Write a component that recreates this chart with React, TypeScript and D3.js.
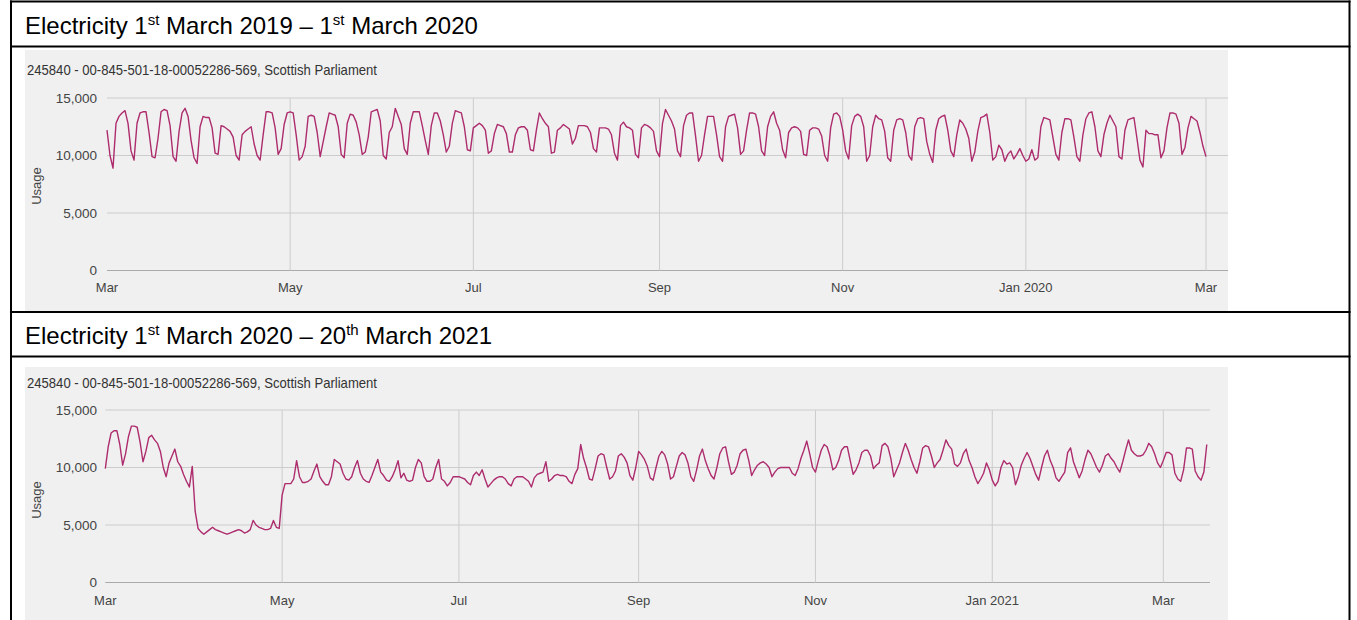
import React from "react";
import * as d3 from "d3";

const FONT = '"Liberation Sans", Arial, sans-serif';

// daily electricity usage (in hundreds), from Fri 1 Mar 2019, one row per week (Mon..Sun)
const usage2019 = [
  122, 100, 89,
  128, 134, 137, 139, 128, 104, 96,
  128, 137, 138, 138, 120, 99, 98,
  115, 138, 140, 139, 126, 99, 95,
  121, 137, 141, 134, 113, 98, 93,
  125, 134, 133, 133, 124, 102, 101,
  126, 125, 123, 121, 116, 100, 96,
  118, 121, 123, 125, 110, 100, 96,
  118, 138, 138, 137, 124, 101, 106,
  127, 137, 138, 137, 118, 96, 99,
  108, 134, 135, 134, 120, 99, 112,
  125, 137, 136, 135, 125, 101, 98,
  128, 136, 135, 129, 118, 101, 103,
  116, 138, 139, 140, 130, 100, 97,
  120, 125, 141, 134, 127, 106, 101,
  128, 138, 138, 138, 126, 113, 101,
  126, 137, 137, 130, 118, 103, 108,
  128, 139, 138, 137, 125, 105, 104,
  124, 126, 128, 126, 122, 102, 104,
  119, 127, 126, 125, 119, 103, 103,
  118, 124, 125, 125, 122, 105, 104,
  122, 137, 132, 128, 125, 102, 103,
  122, 124, 127, 125, 123, 110, 115,
  126, 126, 126, 125, 120, 106, 103,
  124, 124, 124, 123, 118, 102, 96,
  126, 129, 125, 124, 122, 101, 98,
  124, 127, 126, 124, 121, 104, 99,
  128, 140, 135, 130, 123, 104, 99,
  126, 135, 137, 137, 117, 95, 100,
  118, 134, 134, 134, 118, 99, 95,
  125, 134, 135, 136, 124, 101, 104,
  122, 137, 137, 136, 125, 104, 100,
  125, 134, 138, 128, 122, 105, 98,
  120, 124, 125, 124, 121, 101, 100,
  122, 124, 124, 123, 117, 100, 95,
  124, 136, 137, 134, 122, 104, 97,
  126, 134, 136, 134, 125, 95, 100,
  125, 135, 132, 131, 121, 98, 95,
  122, 131, 132, 131, 120, 100, 96,
  125, 132, 133, 132, 112, 101, 94,
  122, 132, 134, 135, 122, 104, 99,
  118, 131, 128, 123, 115, 95, 103,
  121, 133, 134, 136, 120, 96, 99,
  109, 105, 95, 101, 104, 97, 101,
  106, 100, 95, 97, 105, 96, 98,
  125, 133, 132, 131, 116, 101, 96,
  120, 132, 132, 131, 116, 99, 95,
  118, 132, 137, 138, 125, 104, 99,
  118, 128, 135, 130, 125, 99, 97,
  122, 131, 132, 133, 115, 96, 90,
  122, 119, 119, 118, 118, 98, 104,
  124, 137, 137, 136, 128, 101, 107,
  124, 134, 132, 130, 120, 108, 99,
];

// daily electricity usage (in hundreds), from Sun 1 Mar 2020
const usage2020 = [
  99,
  118, 130, 132, 132, 120, 102, 112,
  127, 136, 136, 135, 122, 105, 114,
  126, 128, 124, 121, 114, 100, 92,
  104, 110, 116, 105, 101, 94, 88,
  83, 101, 62, 47, 44, 42, 44,
  46, 48, 46, 45, 44, 43, 42,
  43, 44, 45, 46, 45, 43, 44,
  46, 54, 50, 48, 47, 46, 46,
  47, 54, 48, 47, 76, 86, 86,
  86, 90, 106, 92, 87, 87, 88,
  90, 97, 103, 92, 88, 85, 85,
  92, 107, 105, 103, 95, 90, 89,
  92, 100, 106, 95, 90, 88, 87,
  93, 100, 107, 96, 93, 89, 88,
  92, 98, 106, 91, 95, 89, 88,
  89, 100, 107, 104, 92, 88, 88,
  90, 100, 107, 90, 88, 84, 87,
  92, 92, 92, 91, 90, 87, 85,
  93, 96, 93, 98, 90, 83, 86,
  89, 91, 92, 92, 90, 86, 84,
  90, 92, 92, 92, 90, 88, 83,
  91, 94, 95, 96, 105, 88, 90,
  93, 94, 93, 93, 92, 88, 86,
  94, 99, 120, 108, 100, 90, 89,
  99, 110, 112, 111, 100, 90, 92,
  97, 110, 112, 109, 104, 93, 89,
  100, 114, 111, 107, 101, 91, 89,
  100, 110, 114, 111, 103, 90, 92,
  101, 110, 113, 111, 104, 92, 88,
  98, 110, 116, 106, 99, 93, 90,
  100, 112, 117, 118, 105, 94, 96,
  102, 112, 115, 116, 106, 93, 98,
  102, 104, 105, 103, 100, 92, 96,
  99, 100, 100, 100, 100, 95, 93,
  99, 108, 115, 123, 112, 100, 96,
  106, 115, 120, 118, 110, 98, 100,
  106, 115, 118, 118, 106, 94, 98,
  104, 113, 115, 115, 110, 99, 102,
  104, 119, 121, 118, 108, 92, 98,
  104, 113, 121, 115, 107, 100, 95,
  105, 117, 119, 118, 110, 100, 104,
  107, 115, 124, 119, 116, 103, 101,
  104, 112, 116, 106, 100, 92, 86,
  90, 95, 104, 98, 89, 84, 88,
  100, 106, 103, 104, 100, 85, 92,
  102, 108, 113, 108, 101, 94, 89,
  100, 110, 115, 106, 100, 91, 88,
  92, 96, 113, 117, 105, 98, 91,
  97, 107, 115, 112, 106, 100, 96,
  102, 110, 112, 108, 105, 100, 96,
  105, 115, 124, 115, 112, 110, 110,
  111, 115, 121, 118, 112, 104, 100,
  106, 113, 113, 111, 95, 90, 88,
  98, 117, 117, 116, 97, 92, 89,
  96, 120,
];

const yTicks = [0, 5000, 10000, 15000];
const subtitle = "245840 - 00-845-501-18-00052286-569, Scottish Parliament";

const fmtY = d3.format(",");
const fmtMonth = (d: Date) =>
  d.getUTCMonth() === 0 ? d3.utcFormat("%b %Y")(d) : d3.utcFormat("%b")(d);

type PanelProps = {
  start: Date;
  values: number[];
  bgTop: number;
  bgBottom: number;
  subY: number;
  plotTop: number;
  plotBottom: number;
  xLeft: number;
  xYear: number; // x of the same date one year later
  gridRight: number;
  labelY: number;
  usageY: number;
};

function Panel(p: PanelProps) {
  const yearLater = d3.utcYear.offset(p.start, 1);
  const x = d3.scaleUtc().domain([p.start, yearLater]).range([p.xLeft, p.xYear]);
  const y = d3.scaleLinear().domain([0, 15000]).range([p.plotBottom, p.plotTop]);

  const data = p.values.map((v, i) => ({ date: d3.utcDay.offset(p.start, i), value: v * 100 }));
  const last = data[data.length - 1].date;
  const ticks = d3.utcMonth.every(2)!.range(p.start, d3.utcDay.offset(last, 1));

  const line = d3
    .line<{ date: Date; value: number }>()
    .x((d) => x(d.date))
    .y((d) => y(d.value));

  return (
    <g>
      <rect x={25} y={p.bgTop} width={1203} height={p.bgBottom - p.bgTop} fill="#f0f0f0" />
      <text
        x={27}
        y={p.subY}
        fontSize={14.5}
        fill="#333"
        fontFamily={FONT}
        textLength={350}
        lengthAdjust="spacingAndGlyphs"
      >
        {subtitle}
      </text>
      {yTicks.map((t) => (
        <g key={t}>
          <line
            x1={p.xLeft}
            x2={p.gridRight}
            y1={y(t)}
            y2={y(t)}
            stroke={t === 0 ? "#aaa" : "#ccc"}
            strokeWidth={1}
          />
          <text
            x={97}
            y={y(t)}
            dy="0.35em"
            textAnchor="end"
            fontSize={13.5}
            fill="#444"
            fontFamily={FONT}
          >
            {fmtY(t)}
          </text>
        </g>
      ))}
      {ticks.map((t, i) => (
        <g key={i}>
          {x(t) > p.xLeft + 1 && (
            <line x1={x(t)} x2={x(t)} y1={p.plotTop} y2={p.plotBottom} stroke="#ccc" strokeWidth={1} />
          )}
          <text x={x(t)} y={p.labelY} textAnchor="middle" fontSize={13} fill="#444" fontFamily={FONT}>
            {fmtMonth(t)}
          </text>
        </g>
      ))}
      <text
        transform={`translate(41,${p.usageY}) rotate(-90)`}
        textAnchor="middle"
        fontSize={13}
        fill="#444"
        fontFamily={FONT}
      >
        Usage
      </text>
      <path d={line(data) ?? ""} fill="none" stroke="#ad2c6d" strokeWidth={1.4} strokeLinejoin="round" />
    </g>
  );
}

type TitleProps = { y: number; parts: string[]; sups: string[] };

// parts/sups alternate: parts[0] sups[0] parts[1] sups[1] parts[2]
function Title({ y, parts, sups }: TitleProps) {
  return (
    <text x={25} y={y} fontSize={24} fill="#000" fontFamily={FONT}>
      <tspan>{parts[0]}</tspan>
      <tspan dy={-9} fontSize={15}>{sups[0]}</tspan>
      <tspan dy={9}>{parts[1]}</tspan>
      <tspan dy={-9} fontSize={15}>{sups[1]}</tspan>
      <tspan dy={9}>{parts[2]}</tspan>
    </text>
  );
}

export default function App() {
  return (
    <svg
      width={1357}
      height={620}
      style={{ position: "absolute", left: 0, top: 0, background: "#fff" }}
    >
      <Panel
        start={new Date(Date.UTC(2019, 2, 1))}
        values={usage2019}
        bgTop={50}
        bgBottom={311}
        subY={75}
        plotTop={98}
        plotBottom={270.5}
        xLeft={107}
        xYear={1206}
        gridRight={1228}
        labelY={292}
        usageY={186}
      />
      <Panel
        start={new Date(Date.UTC(2020, 2, 1))}
        values={usage2020}
        bgTop={367}
        bgBottom={620}
        subY={388}
        plotTop={410}
        plotBottom={582.5}
        xLeft={105.3}
        xYear={1163.3}
        gridRight={1210}
        labelY={605}
        usageY={500}
      />

      {/* table frame */}
      <g stroke="#000" strokeWidth={2}>
        <line x1={10} x2={1350.5} y1={1.5} y2={1.5} />
        <line x1={10} x2={1350.5} y1={46.5} y2={46.5} />
        <line x1={10} x2={1350.5} y1={312} y2={312} />
        <line x1={10} x2={1350.5} y1={356.5} y2={356.5} />
        <line x1={11} x2={11} y1={0.5} y2={620} />
        <line x1={1349.5} x2={1349.5} y1={0.5} y2={620} />
      </g>

      <Title y={34} parts={["Electricity 1", "\u00a0March 2019 – 1", "\u00a0March 2020"]} sups={["st", "st"]} />
      <Title y={344} parts={["Electricity 1", "\u00a0March 2020 – 20", "\u00a0March 2021"]} sups={["st", "th"]} />
    </svg>
  );
}
